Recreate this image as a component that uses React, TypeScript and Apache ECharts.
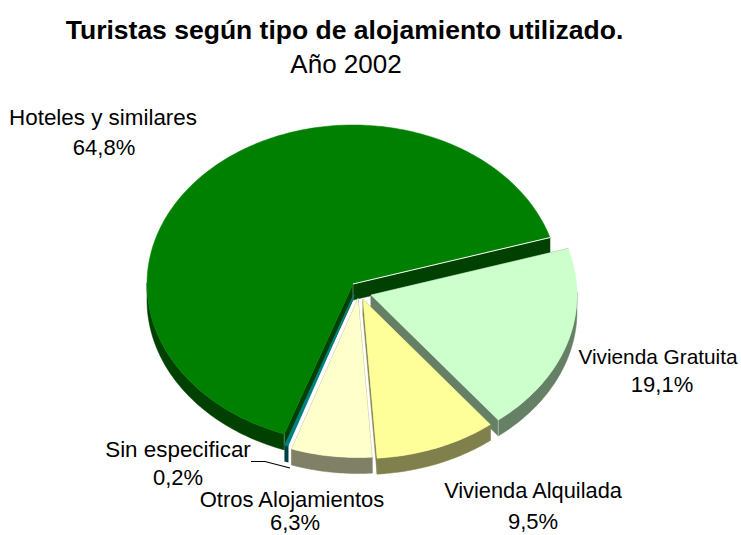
import React, { useEffect, useRef } from "react";
import * as echarts from "echarts";

const categories = ["Hoteles y similares", "Vivienda Gratuita", "Vivienda Alquilada", "Otros Alojamientos", "Sin especificar"];
const shares = [64.8, 19.1, 9.5, 6.3, 0.2];
const percentLabels = ["64,8%", "19,1%", "9,5%", "6,3%", "0,2%"];
const titleMain = "Turistas según tipo de alojamiento utilizado.";
const titleSub = "Año 2002";

const topColors = ["#008000", "#CCFFCC", "#FFFF99", "#FFFFCC", "#008080"];
const wallColors = ["#004000", "#668066", "#80804D", "#808066", "#004040"];

const PIE = { cx: 353, cy: 284, rx: 206, ry: 159, depth: 16, start: 199.5 };
const explode = [[0, 0], [18, 11], [10, 15.5], [5, 14.5], [1, 11]];
const nameBoxes = [[103, 117], [658, 356], [533, 490], [292, 499], [178, 449]];
const pctBoxes = [[104, 147], [662, 384], [533, 521], [295, 522], [178, 477]];
const nameSizes = [22.4, 20.8, 21.8, 22, 22.4];

const total = shares.reduce((a, b) => a + b, 0);
const rad = (d: number) => (d * Math.PI) / 180;

function renderSlice(params: any, api: any) {
  const i = params.dataIndex;
  const before = shares.slice(0, i).reduce((a, b) => a + b, 0);
  const t0 = PIE.start + (before / total) * 360;
  const t1 = t0 + (api.value(0) / total) * 360;
  const cx = PIE.cx + explode[i][0];
  const cy = PIE.cy + explode[i][1];
  const at = (t: number, dy = 0): number[] => [cx + PIE.rx * Math.sin(rad(t)), cy - PIE.ry * Math.cos(rad(t)) + dy];
  const apex = [cx, cy];
  const apexLow = [cx, cy + PIE.depth];
  const steps = Math.max(2, Math.ceil(t1 - t0));
  const arc: number[][] = [];
  const wallArcs: number[][] = [];
  let current: number[] = [];
  for (let k = 0; k <= steps; k++) {
    const t = t0 + ((t1 - t0) * k) / steps;
    arc.push(at(t));
    if (Math.cos(rad(t)) < 0.02) current.push(t);
    else if (current.length) { wallArcs.push(current); current = []; }
  }
  if (current.length) wallArcs.push(current);
  const fill = wallColors[i];
  const thin = i === 4 ? 1.6 : 0.5;
  const poly = (points: number[][], color: string, width = 0.5) => ({
    type: "polygon",
    shape: { points },
    style: { fill: color, stroke: color, lineWidth: width },
  });
  const children: any[] = [];
  if (i !== 4) {
    children.push(poly([apex, at(t0), at(t0, PIE.depth), apexLow], fill));
    children.push(poly([apex, at(t1), at(t1, PIE.depth), apexLow], fill));
  }
  wallArcs.forEach((ts) => {
    children.push(poly([...ts.map((t) => at(t)), ...ts.slice().reverse().map((t) => at(t, PIE.depth))], fill, thin));
  });
  if (i === 0) {
    children.push({ type: "line", shape: { x1: apex[0], y1: apex[1], x2: apexLow[0], y2: apexLow[1] }, style: { stroke: "rgba(255,255,255,0.35)", lineWidth: 1 } });
    const s = at(t0);
    children.push({ type: "line", shape: { x1: s[0], y1: s[1], x2: s[0], y2: s[1] + PIE.depth }, style: { stroke: "rgba(255,255,255,0.35)", lineWidth: 1 } });
  }
  if (i === 1) {
    const e = at(t1);
    children.push({ type: "line", shape: { x1: e[0], y1: e[1], x2: e[0], y2: e[1] + PIE.depth }, style: { stroke: "rgba(255,255,255,0.4)", lineWidth: 1 } });
  }
  children.push(poly([apex, ...arc], topColors[i], thin));
  if (i === 0) {
    const e = at(t1);
    children.push({ type: "line", shape: { x1: apex[0], y1: apex[1], x2: e[0], y2: e[1] }, style: { stroke: "#ffffff", lineWidth: 1 } });
  }
  return { type: "group", children };
}

const textEl = (text: string, x: number, y: number, fontSize: number, fontWeight = "normal") => ({
  type: "text",
  x,
  y,
  style: { text, fontFamily: "Liberation Sans", fontSize, fontWeight, fill: "#000000", textAlign: "center", textVerticalAlign: "middle" },
});

export default function App() {
  const ref = useRef<HTMLDivElement>(null);
  useEffect(() => {
    document.body.style.margin = "0";
    const chart = echarts.init(ref.current!, undefined, { renderer: "svg" });
    chart.setOption({
      animation: false,
      backgroundColor: "#ffffff",
      series: [
        {
          type: "custom",
          coordinateSystem: "none",
          silent: true,
          renderItem: renderSlice,
          data: shares.map((v, i) => ({ name: categories[i], value: [v] })),
        },
      ],
      graphic: [
        textEl(titleMain, 344.5, 30, 26.5, "bold"),
        textEl(titleSub, 346, 64, 26),
        ...categories.map((c, i) => textEl(c, nameBoxes[i][0], nameBoxes[i][1], nameSizes[i])),
        ...percentLabels.map((c, i) => textEl(c, pctBoxes[i][0], pctBoxes[i][1], 22)),
        { type: "polyline", shape: { points: [[251, 461.5], [265, 461.5], [290, 468]] }, style: { stroke: "#000000", lineWidth: 1.2, fill: "none" } },
      ],
    });
    return () => chart.dispose();
  }, []);
  return <div ref={ref} style={{ position: "absolute", left: 0, top: 0, width: 741, height: 535, overflow: "hidden" }} />;
}
